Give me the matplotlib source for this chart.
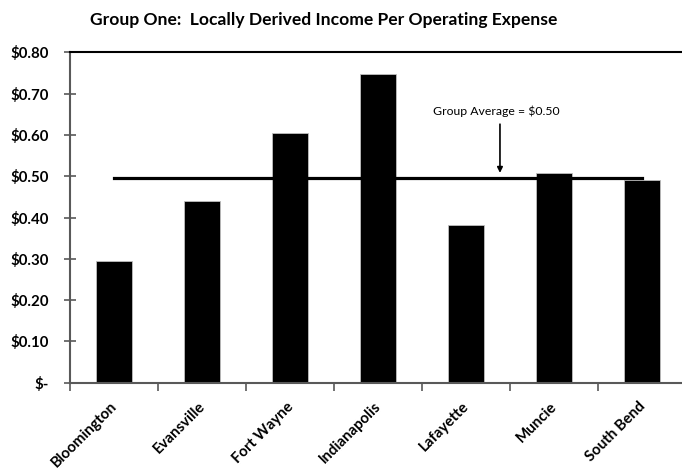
import matplotlib
matplotlib.use("Agg")
import matplotlib.pyplot as plt
import matplotlib.transforms as mtransforms
import numpy as np

cities = ["Bloomington", "Evansville", "Fort Wayne", "Indianapolis", "Lafayette", "Muncie", "South Bend"]
values = [0.295, 0.441, 0.605, 0.747, 0.383, 0.507, 0.491]
group_avg = [0.495] * len(cities)
yticks = [0.0, 0.1, 0.2, 0.3, 0.4, 0.5, 0.6, 0.7, 0.8]
ytick_labels = ["$-", "$0.10", "$0.20", "$0.30", "$0.40", "$0.50", "$0.60", "$0.70", "$0.80"]
title = "Group One:  Locally Derived Income Per Operating Expense"
annot = "Group Average = $0.50"

plt.rcParams['font.family'] = ['Lato', 'DejaVu Sans']

fig = plt.figure(figsize=(6.82, 4.72), dpi=100)
ax = fig.add_axes([70/682, 1-382.7/472, (686-70)/682, (382.7-52.3)/472])

x = np.arange(len(cities))
ax.bar(x, values, width=0.41, color='black', edgecolor='#bfbfbf', linewidth=0.6, zorder=2)
ax.plot(x, group_avg, color='black', linewidth=2.3, zorder=3)

ax.set_xlim(-0.5, len(cities) - 0.5)
ax.set_ylim(0, 0.8)
ax.set_yticks(yticks)
ax.set_yticklabels(ytick_labels, fontsize=10.8, fontweight='bold')
ax.set_xticks(x)
ax.set_xticklabels(cities, rotation=45, ha='right', rotation_mode='anchor', fontsize=10.8, fontweight='bold')
ax.tick_params(axis='x', length=0, pad=12)
offset = mtransforms.ScaledTranslation(-4/100, 0, fig.dpi_scale_trans)
for lbl in ax.get_xticklabels():
    lbl.set_transform(lbl.get_transform() + offset)
ax.set_xticks(np.arange(len(cities) + 1) - 0.5, minor=True)
ax.tick_params(axis='x', which='minor', length=6, direction='out', color='#595959', width=1.2)
ax.tick_params(axis='y', length=8, direction='inout', color='#595959', width=1.2, pad=11)

for s in ['left', 'bottom']:
    ax.spines[s].set_color('#595959')
    ax.spines[s].set_linewidth(1.5)
ax.spines['top'].set_color('black')
ax.spines['top'].set_linewidth(1.5)
ax.spines['right'].set_visible(False)

fig.text(324/682, 1-20/472, title, ha='center', va='center', fontsize=12.6, fontweight='bold')

ax.text(4.34, 0.643, annot, ha='center', va='bottom', fontsize=8.8)
ax.annotate('', xy=(4.386, 0.508), xytext=(4.386, 0.626),
            arrowprops=dict(arrowstyle='-|>', color='black', lw=1.2, mutation_scale=8,
                            shrinkA=0, shrinkB=0))

fig.savefig("out.png", dpi=100)
